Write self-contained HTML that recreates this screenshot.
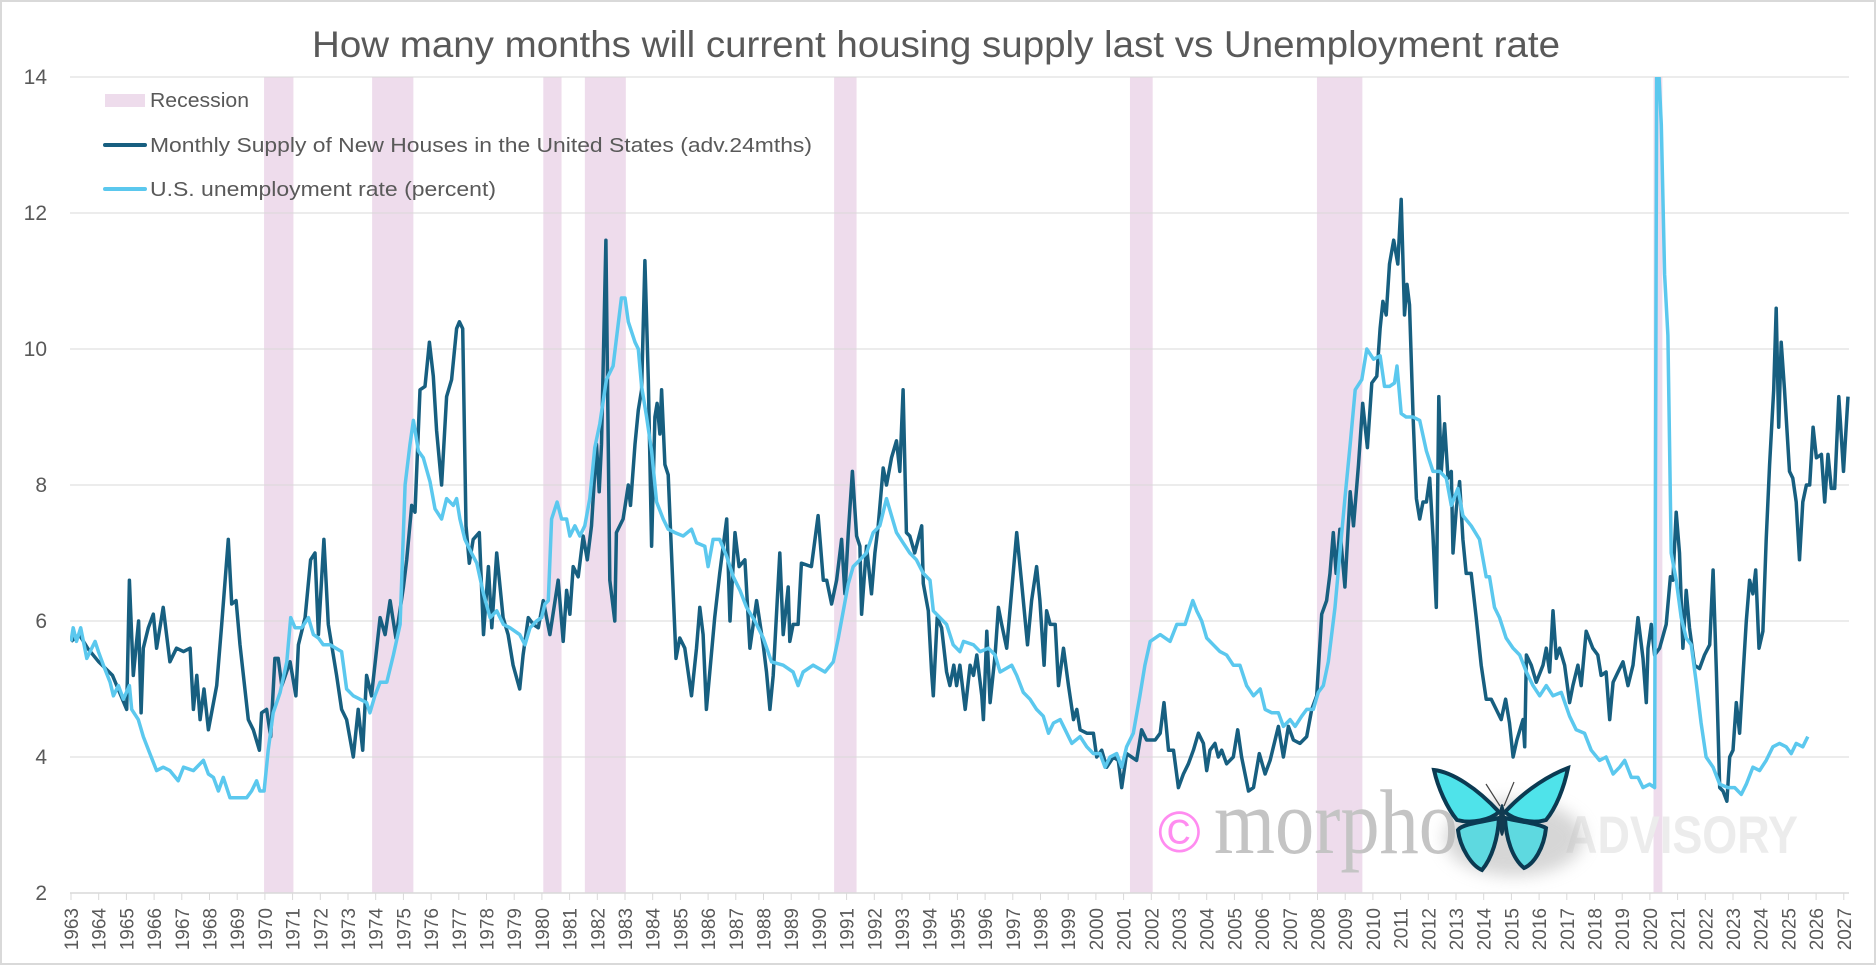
<!DOCTYPE html>
<html><head><meta charset="utf-8"><title>Housing supply vs Unemployment</title>
<style>html,body{margin:0;padding:0;background:#fff}svg{display:block}</style></head>
<body>
<svg id="chart" width="1876" height="965" viewBox="0 0 1876 965" xmlns="http://www.w3.org/2000/svg">
<rect x="1" y="1" width="1874" height="963" fill="#fff" stroke="#d9d9d9" stroke-width="2"/>
<text x="312" y="57" font-family="Liberation Sans, sans-serif" font-size="37" fill="#595959" textLength="1248" lengthAdjust="spacingAndGlyphs">How many months will current housing supply last vs Unemployment rate</text>
<defs>
<clipPath id="plotclip"><rect x="70" y="77" width="1780" height="816"/></clipPath>
<filter id="blur" x="-50%" y="-50%" width="200%" height="200%"><feGaussianBlur stdDeviation="8"/></filter>
</defs>
<g id="recessions"></g>
<g id="grid"></g>
<g id="yaxis"></g>
<g id="xaxis"></g>
<g id="watermark">
  <text x="1158" y="852" font-family="Liberation Sans, sans-serif" font-size="58" fill="#ff8cf0">©</text>
  <text x="1214" y="853" font-family="Liberation Serif, serif" font-size="92" fill="#c4c4c4" textLength="244" lengthAdjust="spacingAndGlyphs">morpho</text>
  <text x="1565" y="853" font-family="Liberation Sans, sans-serif" font-weight="bold" font-size="53" fill="#ececec" textLength="233" lengthAdjust="spacingAndGlyphs">ADVISORY</text>
  <g transform="translate(1502,818)">
    <ellipse cx="12" cy="20" rx="70" ry="38" fill="#bbb" opacity="0.6" filter="url(#blur)"/>
    <path d="M-3,-6 C-25,-30 -50,-46 -68,-48 C-64,-30 -55,-10 -45,2 C-30,6 -12,2 -3,-6Z" fill="#4fe3ea" stroke="#0b3a52" stroke-width="4"/>
    <path d="M3,-6 C25,-30 50,-44 66,-50 C62,-30 54,-10 44,2 C30,6 12,2 3,-6Z" fill="#4fe3ea" stroke="#0b3a52" stroke-width="4"/>
    <path d="M-3,0 C-20,4 -40,6 -44,12 C-42,30 -30,48 -20,52 C-10,40 -4,20 -3,0Z" fill="#5ed9e0" stroke="#0b3a52" stroke-width="4"/>
    <path d="M3,0 C20,4 38,6 44,10 C42,30 32,46 22,50 C10,40 4,20 3,0Z" fill="#5ed9e0" stroke="#0b3a52" stroke-width="4"/>
    <ellipse cx="0" cy="2" rx="3" ry="16" fill="#123a50"/>
    <path d="M-2,-12 L-16,-34 M2,-12 L12,-36" stroke="#444" stroke-width="1.2" fill="none"/>
  </g>
</g>
<g id="series" clip-path="url(#plotclip)"></g>
<g id="legend">
  <rect x="105" y="94" width="40" height="13" fill="#eedcec"/>
  <text x="150" y="107" font-family="Liberation Sans, sans-serif" font-size="20" fill="#595959" textLength="99" lengthAdjust="spacingAndGlyphs">Recession</text>
  <line x1="105" y1="145" x2="145" y2="145" stroke="#175f80" stroke-width="4" stroke-linecap="round"/>
  <text x="150" y="152" font-family="Liberation Sans, sans-serif" font-size="20" fill="#595959" textLength="662" lengthAdjust="spacingAndGlyphs">Monthly Supply of New Houses in the United States (adv.24mths)</text>
  <line x1="105" y1="189" x2="145" y2="189" stroke="#5bc8ee" stroke-width="4" stroke-linecap="round"/>
  <text x="150" y="196" font-family="Liberation Sans, sans-serif" font-size="20" fill="#595959" textLength="346" lengthAdjust="spacingAndGlyphs">U.S. unemployment rate (percent)</text>
</g>
</svg>
<script>
const yTicks = [2, 4, 6, 8, 10, 12, 14];
const xTickYears = [];
for (let yr = 1963; yr <= 2027; yr++) xTickYears.push(yr);
const recessionStarts = [1969.97, 1973.87, 1980.05, 1981.55, 1990.55, 2001.23, 2007.98, 2020.13];
const recessionEnds   = [1971.03, 1975.36, 1980.71, 1983.03, 1991.36, 2002.05, 2009.62, 2020.45];

const supplyDates = [1963.0,1963.3,1963.6,1964.0,1964.5,1965.01,1965.11,1965.25,1965.44,1965.53,1965.61,1965.79,1965.97,1966.09,1966.33,1966.57,1966.81,1967.06,1967.30,1967.42,1967.54,1967.66,1967.80,1967.96,1968.26,1968.44,1968.68,1968.80,1968.96,1969.10,1969.40,1969.58,1969.80,1969.88,1970.06,1970.21,1970.36,1970.48,1970.61,1970.91,1971.12,1971.21,1971.45,1971.65,1971.81,1971.93,1972.13,1972.29,1972.59,1972.77,1972.95,1973.19,1973.37,1973.53,1973.67,1973.85,1974.16,1974.34,1974.52,1974.73,1975.00,1975.12,1975.30,1975.42,1975.60,1975.78,1975.94,1976.08,1976.20,1976.38,1976.56,1976.74,1976.92,1977.02,1977.14,1977.26,1977.38,1977.52,1977.74,1977.89,1978.07,1978.19,1978.37,1978.60,1978.78,1978.96,1979.20,1979.32,1979.51,1979.69,1979.87,1980.05,1980.29,1980.59,1980.77,1980.89,1981.01,1981.13,1981.31,1981.49,1981.64,1981.79,1981.97,1982.07,1982.15,1982.31,1982.45,1982.63,1982.69,1982.93,1983.12,1983.20,1983.36,1983.48,1983.60,1983.72,1983.84,1983.96,1984.08,1984.16,1984.26,1984.32,1984.44,1984.56,1984.68,1984.84,1984.98,1985.16,1985.40,1985.58,1985.70,1985.82,1985.94,1986.06,1986.24,1986.42,1986.67,1986.79,1986.97,1987.12,1987.33,1987.51,1987.75,1987.99,1988.11,1988.23,1988.35,1988.59,1988.71,1988.89,1988.95,1989.07,1989.25,1989.37,1989.73,1989.97,1990.16,1990.28,1990.46,1990.64,1990.82,1990.94,1991.06,1991.21,1991.36,1991.48,1991.54,1991.72,1991.90,1992.02,1992.14,1992.32,1992.44,1992.62,1992.80,1992.92,1993.04,1993.16,1993.28,1993.46,1993.71,1993.77,1993.95,1994.07,1994.13,1994.27,1994.43,1994.61,1994.73,1994.87,1994.97,1995.09,1995.28,1995.46,1995.58,1995.70,1995.88,1995.94,1996.06,1996.18,1996.36,1996.48,1996.60,1996.78,1996.96,1997.14,1997.32,1997.53,1997.68,1997.86,1997.98,1998.13,1998.22,1998.35,1998.53,1998.65,1998.83,1999.01,1999.19,1999.31,1999.43,1999.67,1999.91,2000.03,2000.21,2000.39,2000.63,2000.81,2000.93,2001.11,2001.29,2001.47,2001.65,2001.83,2002.14,2002.32,2002.46,2002.62,2002.80,2002.98,2003.16,2003.34,2003.52,2003.70,2003.88,2004.00,2004.12,2004.30,2004.42,2004.54,2004.72,2004.96,2005.12,2005.26,2005.51,2005.69,2005.90,2006.11,2006.29,2006.59,2006.77,2006.95,2007.13,2007.37,2007.61,2007.79,2007.97,2008.15,2008.33,2008.45,2008.57,2008.67,2008.81,2008.99,2009.18,2009.30,2009.48,2009.63,2009.80,2009.96,2010.14,2010.26,2010.36,2010.48,2010.60,2010.75,2010.90,2011.02,2011.14,2011.23,2011.32,2011.45,2011.57,2011.69,2011.81,2011.93,2012.05,2012.17,2012.29,2012.38,2012.47,2012.59,2012.71,2012.83,2012.89,2013.01,2013.13,2013.25,2013.37,2013.55,2013.73,2013.91,2014.09,2014.27,2014.45,2014.63,2014.79,2014.93,2015.06,2015.20,2015.42,2015.48,2015.54,2015.72,2015.90,2016.14,2016.26,2016.38,2016.50,2016.62,2016.74,2016.92,2017.10,2017.22,2017.40,2017.52,2017.70,2017.94,2018.12,2018.24,2018.42,2018.55,2018.67,2018.85,2019.03,2019.21,2019.39,2019.57,2019.75,2019.87,2019.93,2020.05,2020.17,2020.35,2020.59,2020.74,2020.83,2020.95,2021.07,2021.19,2021.31,2021.43,2021.61,2021.79,2021.97,2022.16,2022.28,2022.40,2022.52,2022.64,2022.78,2022.88,2023.00,2023.12,2023.24,2023.36,2023.48,2023.60,2023.72,2023.82,2023.94,2024.08,2024.20,2024.32,2024.47,2024.56,2024.65,2024.74,2024.86,2025.04,2025.16,2025.28,2025.40,2025.52,2025.65,2025.77,2025.89,2026.01,2026.19,2026.31,2026.43,2026.55,2026.67,2026.82,2026.99,2027.15];
const supplyValues = [5.7,5.8,5.6,5.4,5.2,4.7,6.6,5.2,6.0,4.65,5.6,5.9,6.1,5.6,6.2,5.4,5.6,5.55,5.6,4.7,5.2,4.55,5.0,4.4,5.05,5.95,7.2,6.25,6.3,5.65,4.55,4.4,4.1,4.65,4.7,4.3,5.45,5.45,5.05,5.4,4.9,5.65,6.05,6.9,7.0,5.8,7.2,5.95,5.2,4.7,4.55,4.0,4.7,4.1,5.2,4.9,6.05,5.8,6.3,5.75,6.5,6.9,7.7,7.6,9.4,9.45,10.1,9.6,8.8,8.0,9.3,9.55,10.3,10.4,10.3,7.4,6.85,7.2,7.3,5.8,6.8,5.9,7.0,6.05,5.8,5.35,5.0,5.5,6.05,5.95,5.9,6.3,5.8,6.6,5.7,6.45,6.1,6.8,6.65,7.25,6.9,7.4,8.6,7.9,8.6,11.6,6.6,6.0,7.3,7.5,8.0,7.7,8.6,9.1,9.4,11.3,9.55,7.1,9.0,9.2,8.75,9.4,8.3,8.15,7.0,5.45,5.75,5.6,4.9,5.6,6.2,5.8,4.7,5.25,6.05,6.7,7.5,6.0,7.3,6.8,6.9,5.6,6.3,5.65,5.25,4.7,5.2,7.0,5.8,6.5,5.7,5.95,5.95,6.85,6.8,7.55,6.6,6.6,6.25,6.6,7.2,6.4,7.3,8.2,7.25,7.1,6.1,7.1,6.4,7.0,7.4,8.25,8.0,8.4,8.65,8.2,9.4,7.3,7.25,7.0,7.4,6.55,6.15,5.25,4.9,6.05,5.9,5.25,5.05,5.35,5.05,5.35,4.7,5.35,5.2,5.5,4.9,4.55,5.85,4.8,5.5,6.2,5.95,5.6,6.45,7.3,6.55,5.65,6.3,6.8,6.3,5.35,6.15,5.95,5.95,5.05,5.6,5.05,4.55,4.7,4.4,4.35,4.35,4.0,4.1,3.85,4.0,3.95,3.55,4.05,4.0,3.95,4.4,4.25,4.25,4.35,4.8,4.1,4.1,3.55,3.75,3.9,4.1,4.35,4.2,3.8,4.1,4.2,4.0,4.1,3.9,4.0,4.4,4.0,3.5,3.55,4.05,3.75,3.95,4.45,4.0,4.45,4.25,4.2,4.3,4.7,4.9,6.1,6.3,6.7,7.3,6.7,7.35,6.5,7.9,7.4,8.3,9.2,8.55,9.5,9.6,10.3,10.7,10.5,11.25,11.6,11.25,12.2,10.5,10.95,10.65,9.0,7.8,7.5,7.75,7.75,8.1,7.25,6.2,9.3,8.2,8.9,8.1,8.2,7.0,7.65,8.05,7.2,6.7,6.7,6.05,5.35,4.85,4.85,4.7,4.55,4.85,4.5,4.0,4.25,4.55,4.15,5.5,5.35,5.1,5.35,5.6,5.25,6.15,5.45,5.6,5.35,4.8,5.05,5.35,5.05,5.85,5.6,5.5,5.2,5.25,4.55,5.1,5.25,5.4,5.05,5.35,6.05,5.45,4.8,5.6,5.95,5.5,5.6,5.95,6.65,6.6,7.6,7.0,5.6,6.45,5.9,5.35,5.3,5.5,5.65,6.75,5.25,3.55,3.5,3.35,4.0,4.1,4.8,4.35,5.2,6.0,6.6,6.4,6.75,5.6,5.85,7.2,8.3,9.4,10.6,8.85,10.1,9.4,8.2,8.1,7.75,6.9,7.75,8.0,8.0,8.85,8.4,8.45,7.75,8.45,7.95,7.95,9.3,8.2,9.3];

const unempDates = [1963.00,1963.08,1963.20,1963.35,1963.57,1963.87,1963.99,1964.17,1964.41,1964.53,1964.71,1964.89,1965.11,1965.19,1965.43,1965.61,1965.85,1966.09,1966.33,1966.57,1966.87,1967.06,1967.42,1967.78,1967.96,1968.14,1968.32,1968.50,1968.74,1969.34,1969.52,1969.70,1969.82,1969.97,1970.12,1970.30,1970.55,1970.79,1970.93,1971.09,1971.33,1971.57,1971.75,1971.93,1972.11,1972.35,1972.77,1972.95,1973.19,1973.43,1973.67,1973.79,1973.97,1974.16,1974.40,1974.64,1974.88,1975.06,1975.24,1975.36,1975.54,1975.72,1975.96,1976.14,1976.38,1976.56,1976.80,1976.92,1977.04,1977.22,1977.46,1977.65,1977.89,1978.13,1978.37,1978.61,1978.85,1979.20,1979.39,1979.57,1979.81,1979.99,1980.11,1980.23,1980.35,1980.55,1980.71,1980.89,1981.01,1981.19,1981.37,1981.55,1981.73,1981.91,1982.09,1982.33,1982.57,1982.69,1982.87,1983.00,1983.12,1983.36,1983.48,1983.60,1983.78,1983.96,1984.14,1984.38,1984.56,1984.80,1985.10,1985.40,1985.58,1985.88,1986.00,1986.18,1986.42,1986.67,1986.91,1987.15,1987.39,1987.69,1987.99,1988.29,1988.71,1989.07,1989.25,1989.43,1989.79,1990.22,1990.52,1990.70,1990.88,1991.06,1991.24,1991.48,1991.72,1991.96,1992.20,1992.44,1992.62,1992.80,1993.04,1993.28,1993.52,1993.77,1994.01,1994.13,1994.37,1994.61,1994.85,1995.09,1995.22,1995.58,1995.82,1996.12,1996.36,1996.54,1996.96,1997.14,1997.38,1997.62,1997.86,1998.10,1998.29,1998.47,1998.71,1998.89,1999.13,1999.43,1999.67,1999.91,2000.15,2000.33,2000.51,2000.75,2000.93,2001.11,2001.35,2001.59,2001.77,2001.96,2002.32,2002.68,2002.92,2003.22,2003.50,2003.64,2003.82,2004.00,2004.24,2004.48,2004.72,2004.96,2005.20,2005.44,2005.69,2005.93,2006.11,2006.35,2006.59,2006.77,2007.01,2007.19,2007.43,2007.61,2007.85,2008.03,2008.21,2008.39,2008.63,2008.81,2008.99,2009.18,2009.36,2009.60,2009.78,2010.02,2010.26,2010.42,2010.60,2010.78,2010.87,2011.02,2011.20,2011.45,2011.69,2011.93,2012.17,2012.41,2012.65,2012.83,2013.07,2013.25,2013.55,2013.85,2014.09,2014.21,2014.39,2014.57,2014.81,2015.06,2015.30,2015.54,2015.78,2016.02,2016.26,2016.50,2016.80,2017.10,2017.34,2017.64,2017.88,2018.18,2018.42,2018.67,2018.91,2019.09,2019.33,2019.57,2019.75,2019.99,2020.17,2020.25,2020.41,2020.53,2020.65,2020.77,2020.95,2021.13,2021.31,2021.49,2021.67,2021.85,2022.03,2022.28,2022.52,2022.82,2023.06,2023.30,2023.48,2023.72,2023.96,2024.20,2024.44,2024.68,2024.92,2025.10,2025.28,2025.52,2025.70];
const unempValues = [5.7,5.9,5.7,5.9,5.45,5.7,5.55,5.35,5.1,4.9,5.05,4.85,5.05,4.7,4.55,4.3,4.05,3.8,3.85,3.8,3.65,3.85,3.8,3.95,3.75,3.7,3.5,3.7,3.4,3.4,3.5,3.65,3.5,3.5,4.1,4.65,4.95,5.4,6.05,5.9,5.9,6.05,5.8,5.75,5.65,5.65,5.55,5.0,4.9,4.85,4.8,4.65,4.9,5.1,5.1,5.5,5.95,8.0,8.6,8.95,8.5,8.4,8.05,7.65,7.5,7.8,7.7,7.8,7.5,7.2,7.0,6.85,6.4,6.05,6.15,5.95,5.9,5.8,5.65,5.9,6.0,6.05,6.25,6.3,7.5,7.75,7.5,7.5,7.25,7.4,7.25,7.4,7.8,8.55,8.9,9.55,9.75,10.15,10.75,10.75,10.4,10.1,10.0,9.45,9.0,8.5,7.75,7.5,7.35,7.3,7.25,7.35,7.15,7.1,6.8,7.2,7.2,6.95,6.65,6.45,6.2,6.0,5.75,5.4,5.35,5.25,5.05,5.25,5.35,5.25,5.4,5.75,6.15,6.55,6.8,6.9,7.0,7.3,7.4,7.8,7.55,7.3,7.15,7.0,6.9,6.7,6.6,6.15,6.05,5.95,5.65,5.55,5.7,5.65,5.55,5.6,5.5,5.25,5.35,5.2,4.95,4.85,4.7,4.6,4.35,4.5,4.55,4.4,4.2,4.3,4.15,4.05,4.05,3.85,4.0,4.05,3.85,4.15,4.35,4.9,5.35,5.7,5.8,5.7,5.95,5.95,6.3,6.15,6.0,5.75,5.65,5.55,5.5,5.35,5.35,5.05,4.9,5.0,4.7,4.65,4.65,4.45,4.55,4.45,4.6,4.7,4.7,4.95,5.05,5.4,6.2,7.0,7.8,8.6,9.4,9.55,10.0,9.85,9.9,9.45,9.45,9.5,9.75,9.05,9.0,9.0,8.95,8.5,8.2,8.2,8.1,7.7,7.95,7.55,7.4,7.2,6.65,6.65,6.2,6.05,5.75,5.6,5.5,5.25,5.05,4.9,5.05,4.9,4.95,4.6,4.4,4.35,4.1,3.95,4.0,3.75,3.85,3.95,3.7,3.7,3.55,3.6,3.55,14.7,13.3,11.1,10.2,7.0,6.6,6.05,5.75,5.65,5.1,4.5,4.0,3.85,3.6,3.55,3.55,3.45,3.6,3.85,3.8,3.95,4.15,4.2,4.15,4.05,4.2,4.15,4.3];

const NS = 'http://www.w3.org/2000/svg';
const X0 = 71, XPER = 27.7, Y0 = 893, YPER = 68;
function xScale(year){ return X0 + (year - 1963) * XPER; }
function yScale(v){ return Y0 - (v - 2) * YPER; }
function mk(tag, attrs){ const e = document.createElementNS(NS, tag); for (const k in attrs) e.setAttribute(k, attrs[k]); return e; }

const recG = document.getElementById('recessions');
recessionStarts.forEach((s, i) => {
  const r = mk('rect', {x: xScale(s), y: 77, width: xScale(recessionEnds[i]) - xScale(s), height: 816, fill: '#eedcec'});
  
  
  recG.appendChild(r);
});

const gridG = document.getElementById('grid');
const yG = document.getElementById('yaxis');
yTicks.forEach(t => {
  if (t > 2) {
    const l = mk('line', {x1: 70, x2: 1849, y1: yScale(t), y2: yScale(t), stroke: '#d9d9d9', 'stroke-width': 1});
    
    
    gridG.appendChild(l);
  }
  const tx = mk('text', {x: 47, y: yScale(t) + 7, 'text-anchor': 'end', 'font-family': 'Liberation Sans, sans-serif', 'font-size': 21, fill: '#595959'});
  tx.textContent = t;
  
  
  yG.appendChild(tx);
});

const xG = document.getElementById('xaxis');
const axisLine = mk('line', {x1: 70, x2: 1849, y1: 893, y2: 893, stroke: '#d9d9d9', 'stroke-width': 1.5});


xG.appendChild(axisLine);
xTickYears.forEach(yr => {
  const x = xScale(yr);
  const tk = mk('line', {x1: x, x2: x, y1: 893, y2: 900, stroke: '#d9d9d9', 'stroke-width': 1});
  
  
  xG.appendChild(tk);
  const tx = mk('text', {x: 0, y: 0, 'text-anchor': 'end', 'font-family': 'Liberation Sans, sans-serif', 'font-size': 19, fill: '#595959', transform: 'translate(' + (x + 7) + ',908) rotate(-90)'});
  tx.textContent = yr;
  
  
  xG.appendChild(tx);
});

function pathFor(dates, values){
  return dates.map((d, i) => (i ? 'L' : 'M') + xScale(d).toFixed(1) + ',' + yScale(values[i]).toFixed(1)).join(' ');
}
const sG = document.getElementById('series');
const supplyPath = mk('path', {d: pathFor(supplyDates, supplyValues), fill: 'none', stroke: '#175f80', 'stroke-width': 3.5, 'stroke-linejoin': 'round'});


sG.appendChild(supplyPath);
const unempPath = mk('path', {d: pathFor(unempDates, unempValues), fill: 'none', stroke: '#5bc8ee', 'stroke-width': 3.5, 'stroke-linejoin': 'round'});


sG.appendChild(unempPath);
</script>
</body></html>
